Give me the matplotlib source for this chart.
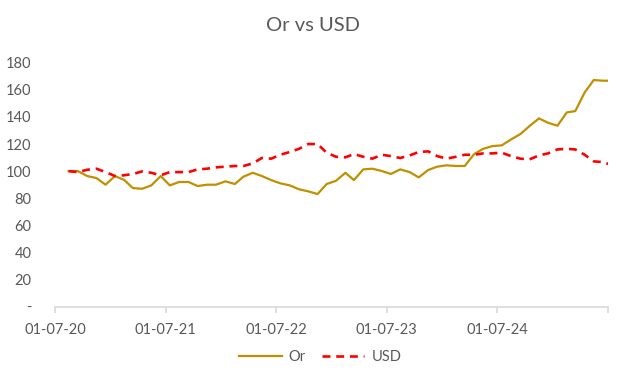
import pandas as pd
import matplotlib
matplotlib.use("Agg")
import matplotlib.pyplot as plt

# data: monthly index, base 100 in July 2020
dates = pd.date_range("2020-07-15", periods=60, freq="MS") + pd.Timedelta(days=14)

gold = [100, 100, 96.4, 94.9, 90.0, 96.4, 93.4, 87.5, 87.0, 89.5,
        96.4, 89.5, 92.0, 92.0, 89.0, 90.0, 90.0, 92.5, 90.5, 95.9,
        98.8, 96.4, 93.4, 91.0, 89.5, 86.6, 85.1, 83.1, 90.5, 92.9,
        98.8, 93.4, 101.3, 101.8, 100.1, 97.9, 101.3, 99.3, 95.4, 100.8,
        103.3, 104.3, 103.8, 103.8, 112.6, 116.5, 118.5, 119.0, 123.4, 127.4,
        133.3, 138.9, 135.7, 133.5, 143.3, 144.3, 158.1, 167.2, 166.7, 166.7]

usd = [100, 99.3, 101.0, 101.8, 99.3, 96.4, 97.0, 97.9, 99.8, 98.8,
       96.9, 99.3, 99.3, 99.3, 101.3, 101.8, 102.8, 103.3, 103.8, 103.8,
       105.7, 109.7, 109.2, 112.1, 114.1, 116.5, 120.0, 120.0, 113.6, 110.6,
       110.2, 112.6, 110.6, 109.2, 112.1, 111.1, 109.7, 111.6, 114.1, 114.6,
       111.1, 109.2, 110.6, 112.1, 112.1, 113.1, 113.1, 113.6, 111.1, 109.2,
       108.7, 111.6, 113.1, 116.0, 116.5, 116.0, 112.1, 107.2, 106.7, 104.3]

tick_dates = pd.to_datetime(["2020-07-01", "2021-07-01", "2022-07-01",
                             "2023-07-01", "2024-07-01", "2025-07-01"])
tick_labels = ["01-07-20", "01-07-21", "01-07-22", "01-07-23", "01-07-24", ""]
y_ticks = [0, 20, 40, 60, 80, 100, 120, 140, 160, 180]
y_labels = ["-"] + [str(v) for v in y_ticks[1:]]

plt.rcParams["font.family"] = ["Lato", "DejaVu Sans"]
grey = "#595959"

fig = plt.figure(figsize=(6.27, 3.84), dpi=100)
ax = fig.add_axes([55 / 627, 1 - 306.7 / 384, (608 - 55) / 627, (306.7 - 62.7) / 384])

ax.plot(dates, gold, color="#BF9000", lw=1.6, label="Or")
ax.plot(dates, usd, color="#FF0000", lw=1.9, ls=(0, (3, 2.2)), label="USD")

ax.set_xlim(tick_dates[0], tick_dates[-1])
ax.set_ylim(0, 180)
ax.set_xticks(tick_dates)
ax.set_xticklabels(tick_labels)
ax.set_yticks(y_ticks)
ax.set_yticklabels(y_labels)

for s in ["top", "right", "left"]:
    ax.spines[s].set_visible(False)
ax.spines["bottom"].set_color("#D9D9D9")
ax.spines["bottom"].set_linewidth(1.2)
ax.tick_params(axis="x", colors="#D9D9D9", length=4, width=1.2, pad=8,
               labelcolor=grey, labelsize=10.5)
ax.tick_params(axis="y", length=0, pad=17, labelcolor=grey, labelsize=10.5)

fig.suptitle("Or vs USD", x=0.5, y=0.955, fontsize=14.5, color=grey)

fig.legend(loc="center", bbox_to_anchor=(0.511, 1 - 357 / 384), ncol=2,
           frameon=False, fontsize=10.5, labelcolor=grey, handlelength=2.9,
           columnspacing=1.1, handletextpad=0.5)

fig.savefig("out.png", dpi=100)
